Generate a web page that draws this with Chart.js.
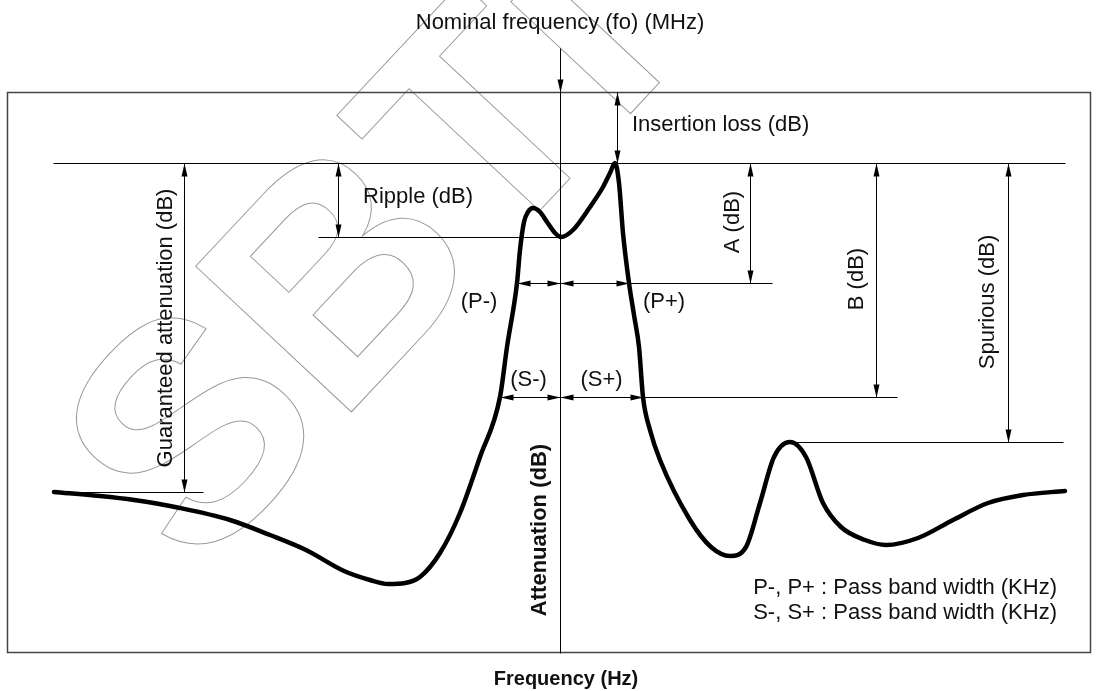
<!DOCTYPE html>
<html>
<head>
<meta charset="utf-8">
<script src="https://cdn.jsdelivr.net/npm/chart.js@4"></script>
<style>
  html, body { margin: 0; padding: 0; background: #fff; }
  #wrap { width: 1099px; height: 691px; }
</style>
</head>
<body>
<div id="wrap"><canvas id="c" width="1099" height="691"></canvas></div>
<script>
// Frequency offset from nominal (arbitrary units, 0 = fo)
const freq = [-101.2, -92, -85.2, -76, -66, -58, -50.8, -43.2, -38, -34.4, -31, -28, -24, -20, -16, -12,
  -10.6, -8.6, -8, -7.2, -6.4, -5.4, -4, -2.6, -1, 0.2, 2.6, 6, 8.6, 10, 11, 11.8, 12.6, 13.8, 14.8,
  15.8, 16.6, 18, 20, 26, 30.2, 34, 37.2, 40, 42.8, 46, 49.2, 52.6, 56.2, 61, 65.2, 71.6, 78.6, 85.6,
  92.6, 101];
// Attenuation (arbitrary dB units, larger = more attenuation, drawn downward)
const atten = [80, 80.8, 81.6, 83.2, 85.6, 88.6, 91.6, 95.8, 97.6, 98.4, 98.2, 97, 92.2, 84.2, 73, 61,
  51, 38.2, 31.6, 26, 24, 23.2, 24, 26, 28.2, 29, 27.6, 23, 19, 16.2, 14.2, 18.2, 28.2, 38.2, 44.6,
  51, 61, 67.6, 73.6, 85.6, 91, 92.8, 91, 82.2, 73, 70, 73, 82.2, 87, 89.6, 90.6, 89.2, 85.6, 82.2,
  80.6, 79.8];

// Key levels and band edges (same units)
const levelTop = 14.2;        // insertion-loss reference (peak)
const levelRipple = 29;
const levelA = 38.1;
const levelB = 61;
const levelSpur = 70;
const levelGuar = 80;
const passMinus = -8.6, passPlus = 13.8;
const stopMinus = -12, stopPlus = 16.6;

const xMin = -110.6, xMax = 106.2, yMin = 0, yMax = 112.2;

const FONT = '"Liberation Sans", Arial, Helvetica, sans-serif';

const annot = {
  id: 'annot',
  beforeDatasetsDraw(chart) {
    const ctx = chart.ctx;
    const X = v => chart.scales.x.getPixelForValue(v);
    const Y = v => chart.scales.y.getPixelForValue(v);
    const a = chart.chartArea;

    // watermark
    ctx.save();
    ctx.setTransform(0.683, -0.73, 0.73, 0.683, 196, 578);
    ctx.font = 'bold 310px ' + FONT;
    ctx.strokeStyle = '#9a9a9a';
    ctx.lineWidth = 1;
    ctx.textAlign = 'left';
    ctx.textBaseline = 'alphabetic';
    ctx.strokeText('SBTi', 0, 0);
    ctx.restore();

    // frame
    ctx.save();
    ctx.strokeStyle = '#444';
    ctx.lineWidth = 1.5;
    ctx.strokeRect(a.left + 0.5, a.top + 0.5, a.right - a.left - 1, a.bottom - a.top - 1);
    ctx.restore();

    ctx.save();
    ctx.strokeStyle = '#000';
    ctx.fillStyle = '#000';
    ctx.lineWidth = 1;

    const line = (x1, y1, x2, y2) => {
      ctx.beginPath();
      ctx.moveTo(Math.round(x1) + 0.5, Math.round(y1) + 0.5);
      ctx.lineTo(Math.round(x2) + 0.5, Math.round(y2) + 0.5);
      ctx.stroke();
    };
    const head = (tx, ty, dx, dy) => {
      const L = 13, W = 3;
      tx = Math.round(tx) + 0.5; ty = Math.round(ty) + 0.5;
      ctx.beginPath();
      ctx.moveTo(tx, ty);
      ctx.lineTo(tx - dx * L - dy * W, ty - dy * L + dx * W);
      ctx.lineTo(tx - dx * L + dy * W, ty - dy * L - dx * W);
      ctx.closePath();
      ctx.fill();
    };
    const vdim = (xv, y1, y2) => {
      const x = X(xv), p1 = Y(y1), p2 = Y(y2);
      line(x, p1, x, p2);
      head(x, p1, 0, -1);
      head(x, p2, 0, 1);
    };
    const hdim = (yv, x1, x2) => {
      const y = Y(yv), p1 = X(x1), p2 = X(x2);
      line(p1, y, p2, y);
      head(p1, y, -1, 0);
      head(p2, y, 1, 0);
    };

    // reference top line
    line(X(-101.4), Y(levelTop), X(101), Y(levelTop));
    // nominal frequency axis with arrow
    line(X(0), Y(-8.8), X(0), Y(yMax));
    head(X(0), Y(0), 0, 1);
    // insertion loss
    vdim(11.4, 0, levelTop);
    // guaranteed attenuation
    vdim(-75.2, levelTop, levelGuar);
    line(X(-101.4), Y(levelGuar), X(-71.4), Y(levelGuar));
    // ripple
    vdim(-44.4, levelTop, levelRipple);
    line(X(-48.4), Y(levelRipple), X(0.2), Y(levelRipple));
    // A
    vdim(38, levelTop, levelA);
    line(X(passMinus), Y(levelA), X(42.4), Y(levelA));
    hdim(levelA, passMinus, 0);
    hdim(levelA, 0, passPlus);
    // B
    vdim(63.2, levelTop, levelB);
    line(X(stopMinus), Y(levelB), X(67.4), Y(levelB));
    hdim(levelB, stopMinus, 0);
    hdim(levelB, 0, stopPlus);
    // spurious
    vdim(89.6, levelTop, levelSpur);
    line(X(46), Y(levelSpur), X(100.6), Y(levelSpur));
    ctx.restore();

    // texts
    ctx.save();
    ctx.fillStyle = '#111';
    ctx.textBaseline = 'middle';
    const text = (s, xv, yv, align, font, rot) => {
      ctx.save();
      ctx.font = font || ('22px ' + FONT);
      ctx.textAlign = align || 'center';
      ctx.translate(X(xv), Y(yv));
      if (rot) ctx.rotate(rot);
      ctx.fillText(s, 0, 0);
      ctx.restore();
    };
    const R = -Math.PI / 2;
    text('Nominal frequency (fo) (MHz)', 0, -13.8, 'center');
    text('Insertion loss (dB)', 14.4, 6.6, 'left');
    text('Ripple (dB)', -39.4, 21, 'left');
    text('Guaranteed attenuation (dB)', -78.8, 47.2, 'center', null, R);
    text('A (dB)', 34.6, 26, 'center', null, R);
    text('B (dB)', 59.4, 37.4, 'center', null, R);
    text('Spurious (dB)', 85.6, 42, 'center', null, R);
    text('(P-)', -16.2, 42, 'center');
    text('(P+)', 20.8, 42, 'center');
    text('(S-)', -6.3, 57.6, 'center');
    text('(S+)', 8.3, 57.6, 'center');
    text('P-, P+ : Pass band width (KHz)', 99.4, 99.2, 'right');
    text('S-, S+ : Pass band width (KHz)', 99.4, 104.2, 'right');
    text('Attenuation (dB)', -4, 87.6, 'center', 'bold 22px ' + FONT, R);
    text('Frequency (Hz)', 1.2, 117.4, 'center', 'bold 20px ' + FONT);
    ctx.restore();
  }
};

new Chart(document.getElementById('c'), {
  type: 'line',
  data: {
    datasets: [{
      data: freq.map((x, i) => ({ x: x, y: atten[i] })),
      borderColor: '#000',
      borderWidth: 4.5,
      pointRadius: 0,
      fill: false,
      cubicInterpolationMode: 'monotone',
      borderCapStyle: 'round',
      borderJoinStyle: 'round'
    }]
  },
  options: {
    responsive: false,
    animation: false,
    layout: { padding: { left: 7, right: 8, top: 92, bottom: 38 } },
    plugins: { legend: { display: false }, tooltip: { enabled: false } },
    scales: {
      x: { type: 'linear', min: xMin, max: xMax, display: false },
      y: { type: 'linear', min: yMin, max: yMax, reverse: true, display: false }
    }
  },
  plugins: [annot]
});
</script>
</body>
</html>
